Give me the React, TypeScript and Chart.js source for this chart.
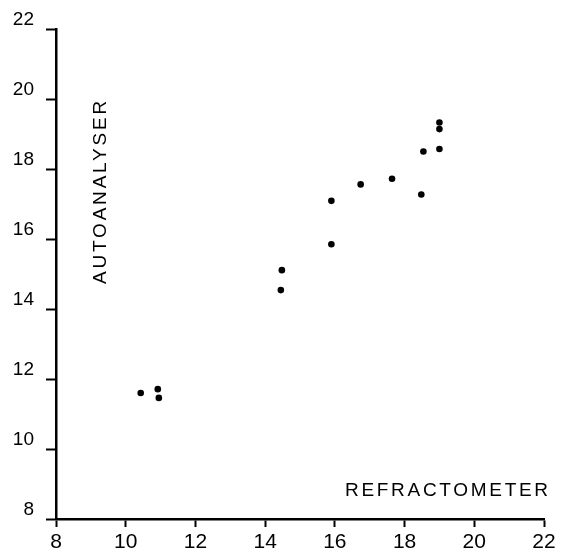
import React, { useEffect, useRef } from "react";
import { Chart, registerables } from "chart.js";

Chart.register(...registerables);

const refractometer = [10.43, 10.92, 10.95, 14.48, 14.45, 15.9, 15.9, 16.74, 17.64, 18.48, 18.54, 19.0, 19.0, 19.0];
const autoanalyser = [11.6, 11.71, 11.46, 15.11, 14.54, 15.85, 17.09, 17.56, 17.72, 17.27, 18.5, 18.57, 19.14, 19.33];
const axisMin = 8;
const axisMax = 22;
const axisStep = 2;
const xTitle = "REFRACTOMETER";
const yTitle = "AUTOANALYSER";

const FONT = "'Liberation Sans', Arial, Helvetica, sans-serif";

const titlesPlugin = {
  id: "titles",
  afterDraw(chart: any) {
    const ctx = chart.ctx as CanvasRenderingContext2D;
    ctx.save();
    ctx.fillStyle = "#000";
    ctx.font = `19px ${FONT}`;
    (ctx as any).letterSpacing = "2.7px";
    ctx.textBaseline = "alphabetic";
    ctx.textAlign = "left";
    ctx.fillText(xTitle, 345, 496);
    ctx.translate(106, 284);
    ctx.rotate(-Math.PI / 2);
    (ctx as any).letterSpacing = "2.8px";
    ctx.fillText(yTitle, 0, 0);
    ctx.restore();
  },
};

export default function App() {
  const ref = useRef<HTMLCanvasElement | null>(null);
  useEffect(() => {
    document.body.style.margin = "0";
    const data = refractometer.map((x, i) => ({ x, y: autoanalyser[i] }));
    const chart = new Chart(ref.current!, {
      type: "scatter",
      data: {
        datasets: [
          {
            data,
            backgroundColor: "#000",
            borderColor: "#000",
            pointRadius: 3.3,
            borderWidth: 0,
          },
        ],
      },
      options: {
        animation: false,
        responsive: false,
        devicePixelRatio: 1,
        layout: { padding: { top: 29, right: 17, left: 0, bottom: 0 } },
        plugins: { legend: { display: false }, tooltip: { enabled: false } },
        scales: {
          x: {
            type: "linear",
            min: axisMin,
            max: axisMax,
            afterFit(scale: any) {
              scale.height = 35;
            },
            ticks: {
              stepSize: axisStep,
              color: "#000",
              font: { family: FONT, size: 21 },
              padding: 3,
              maxRotation: 0,
            },
            grid: {
              drawOnChartArea: false,
              drawTicks: true,
              tickLength: 8,
              tickColor: "#000",
              tickWidth: 2,
            },
            border: { display: true, color: "#000", width: 2.5 },
          },
          y: {
            type: "linear",
            min: axisMin,
            max: axisMax,
            afterFit(scale: any) {
              scale.width = 56;
            },
            ticks: {
              stepSize: axisStep,
              color: "#000",
              font: { family: FONT, size: 19 },
              padding: 12,
              labelOffset: -9,
            },
            grid: {
              drawOnChartArea: false,
              drawTicks: true,
              tickLength: 10,
              tickColor: "#000",
              tickWidth: 2,
            },
            border: { display: true, color: "#000", width: 2.5 },
          },
        },
      },
      plugins: [titlesPlugin],
    });
    return () => chart.destroy();
  }, []);
  return (
    <div style={{ width: 561, height: 554, background: "#fff" }}>
      <canvas ref={ref} width={561} height={554} style={{ display: "block" }} />
    </div>
  );
}
